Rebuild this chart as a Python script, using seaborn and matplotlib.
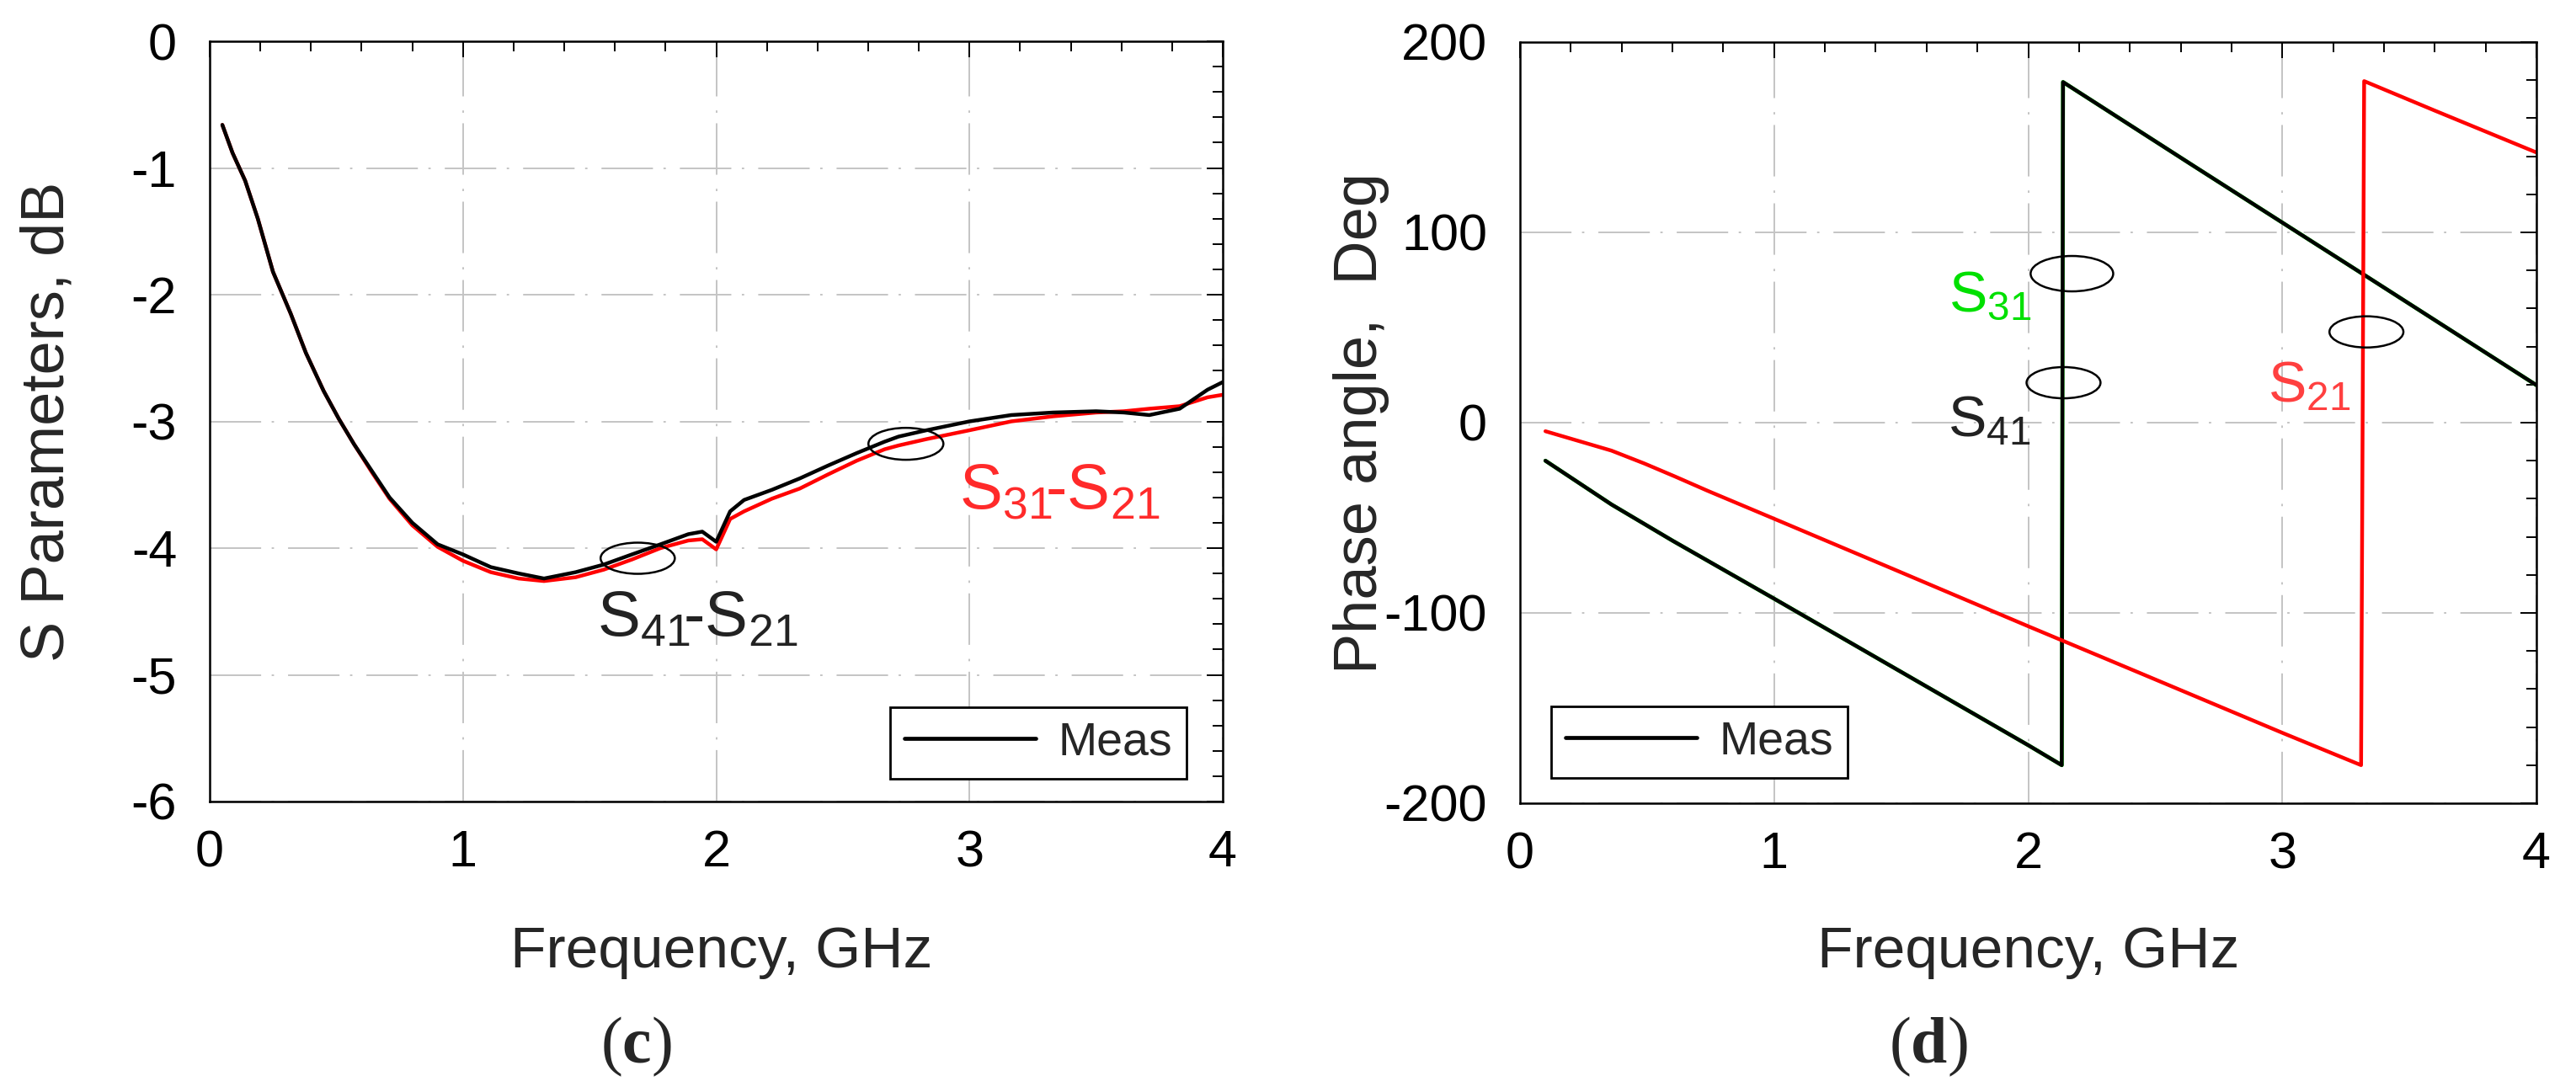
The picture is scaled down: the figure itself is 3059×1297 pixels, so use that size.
import matplotlib
matplotlib.use("Agg")
import matplotlib.pyplot as plt
from matplotlib.lines import Line2D
from matplotlib.patches import Ellipse
from matplotlib.ticker import MultipleLocator
import seaborn as sns

# ---- (c) magnitude of the coupling, dB ----
freq_mag = [0.05, 0.09, 0.14, 0.19, 0.25, 0.32, 0.38, 0.45, 0.51, 0.57, 0.64, 0.71,
            0.80, 0.90, 1.00, 1.11, 1.22, 1.32, 1.445, 1.556, 1.667, 1.78, 1.89, 1.945,
            2.00, 2.055, 2.11, 2.22, 2.33, 2.44, 2.555, 2.665, 2.72, 2.83, 3.00, 3.165,
            3.33, 3.50, 3.61, 3.71, 3.83, 3.94, 4.00]
s41_s21_db = [-0.66, -0.88, -1.10, -1.40, -1.82, -2.15, -2.46, -2.76, -2.98, -3.18, -3.39, -3.60,
              -3.80, -3.97, -4.05, -4.15, -4.20, -4.24, -4.19, -4.13, -4.05, -3.97, -3.89, -3.87,
              -3.95, -3.71, -3.62, -3.54, -3.45, -3.35, -3.25, -3.16, -3.12, -3.07, -3.00, -2.95,
              -2.93, -2.92, -2.93, -2.95, -2.90, -2.75, -2.69]
s31_s21_db = [-0.66, -0.88, -1.10, -1.40, -1.82, -2.15, -2.46, -2.76, -2.98, -3.18, -3.40, -3.61,
              -3.82, -3.99, -4.10, -4.19, -4.24, -4.26, -4.23, -4.17, -4.09, -4.00, -3.94, -3.93,
              -4.01, -3.77, -3.71, -3.61, -3.53, -3.42, -3.31, -3.22, -3.19, -3.14, -3.07, -3.00,
              -2.96, -2.93, -2.92, -2.90, -2.88, -2.81, -2.79]

# ---- (d) phase angle, deg ----
freq_s21 = [0.10, 0.23, 0.36, 0.49, 0.61, 0.74, 0.87, 1.00, 1.47, 2.00, 2.44, 3.00,
            3.310, 3.322, 3.60, 4.00]
phase_s21 = [-4.5, -9.6, -14.7, -21.5, -28.3, -35.9, -43.2, -50.5, -77.0, -107.0, -131.6, -163.0,
             -180.0, 179.5, 164.0, 142.0]
freq_s41 = [0.10, 0.36, 0.60, 1.00, 1.50, 2.00, 2.132, 2.137, 2.65, 3.33, 4.00]
phase_s41 = [-20.0, -43.0, -62.0, -92.5, -131.0, -169.5, -180.0, 179.0, 135.0, 77.0, 19.7]
phase_s31 = phase_s41  # S31 lies under S41

# annotation ellipses: centre x, centre y, width, height (data units)
mag_ellipses = [(1.69, -4.08, 0.293, 0.246), (2.749, -3.177, 0.296, 0.252)]
phase_ellipses = [(2.172, 78.3, 0.325, 18.6), (2.139, 21.0, 0.291, 16.4), (3.331, 47.7, 0.291, 16.4)]

sns.set_theme(style="white")
plt.rcParams["font.family"] = ["Liberation Sans", "DejaVu Sans"]
plt.rcParams["axes.unicode_minus"] = False
plt.rcParams["lines.scale_dashes"] = False
plt.rcParams["mathtext.fontset"] = "custom"
plt.rcParams["mathtext.rm"] = "Liberation Sans"
plt.rcParams["mathtext.it"] = "Liberation Sans:italic"
plt.rcParams["mathtext.bf"] = "Liberation Serif:bold"

W, H = 3059, 1297
fig = plt.figure(figsize=(W / 100, H / 100), dpi=100)
ax1 = fig.add_axes([249 / W, 1 - 952 / H, 1203 / W, 903 / H])
ax2 = fig.add_axes([1805 / W, 1 - 954 / H, 1207 / W, 904 / H])

grid_style = (0, (44, 9, 2, 12))


def style_axes(ax, ymajor, yminor):
    ax.set_xlim(0, 4)
    ax.xaxis.set_major_locator(MultipleLocator(1))
    ax.xaxis.set_minor_locator(MultipleLocator(0.2))
    ax.yaxis.set_major_locator(MultipleLocator(ymajor))
    ax.yaxis.set_minor_locator(MultipleLocator(yminor))
    ax.tick_params(which="both", direction="in", top=True, right=True, colors="black",
                   width=1.4, labelsize=44)
    ax.tick_params(which="major", length=14)
    ax.tick_params(which="minor", length=8.5)
    ax.tick_params(axis="x", which="major", pad=24)
    ax.tick_params(axis="y", which="major", pad=28)
    ax.grid(True, which="major", color="#c4c4c4", lw=1.4, linestyle=grid_style)
    for sp in ax.spines.values():
        sp.set_color("black")
        sp.set_linewidth(1.8)
    ax.set_facecolor("white")


# ---------- (c) ----------
sns.lineplot(x=freq_mag, y=s31_s21_db, ax=ax1, color="#ff0000", lw=3.2,
             estimator=None, sort=False)
sns.lineplot(x=freq_mag, y=s41_s21_db, ax=ax1, color="black", lw=3.2,
             estimator=None, sort=False)
ax1.set_ylim(-6, 0)
style_axes(ax1, 1, 0.2)
for cx, cy, w, h in mag_ellipses:
    ax1.add_patch(Ellipse((cx, cy), w, h, fill=False, ec="black", lw=1.8, zorder=5))
ax1.text(1.53, -4.69, r"$\mathrm{S_{41}}\!$-$\mathrm{S_{21}}$", color="#222222",
         fontsize=55, ha="left", va="baseline")
ax1.text(2.96, -3.69, r"$\mathrm{S_{31}}\!$-$\mathrm{S_{21}}$", color="#ff2a2a",
         fontsize=55, ha="left", va="baseline")
ax1.set_xlabel("Frequency, GHz", fontsize=50, va="center")
ax1.set_ylabel("S Parameters, dB", fontsize=52, va="center")
ax1.xaxis.set_label_coords(0.505, -0.198)
ax1.yaxis.set_label_coords(-0.160, 0.5)

meas = [Line2D([], [], color="black", lw=3.4)]
leg_kw = dict(fontsize=40, frameon=True, fancybox=False, framealpha=1, edgecolor="black",
              borderpad=0.3, handlelength=2.8, handletextpad=0.48, borderaxespad=0,
              loc="lower left")
leg1 = ax1.legend(meas, ["Meas"], bbox_to_anchor=(0.672, 0.030), **leg_kw)
leg1.get_frame().set_linewidth(2.0)

# ---------- (d) ----------
sns.lineplot(x=freq_s41, y=phase_s31, ax=ax2, color="#00e000", lw=3.4,
             estimator=None, sort=False)
sns.lineplot(x=freq_s41, y=phase_s41, ax=ax2, color="black", lw=3.2,
             estimator=None, sort=False)
sns.lineplot(x=freq_s21, y=phase_s21, ax=ax2, color="#ff0000", lw=3.2,
             estimator=None, sort=False)
ax2.set_ylim(-200, 200)
style_axes(ax2, 100, 20)
for cx, cy, w, h in phase_ellipses:
    ax2.add_patch(Ellipse((cx, cy), w, h, fill=False, ec="black", lw=1.8, zorder=5))
ax2.text(1.686, 58.5, r"$\mathrm{S_{31}}$", color="#00e000", fontsize=49,
         ha="left", va="baseline")
ax2.text(1.682, -7.0, r"$\mathrm{S_{41}}$", color="#222222", fontsize=49,
         ha="left", va="baseline")
ax2.text(2.944, 11.1, r"$\mathrm{S_{21}}$", color="#ff4040", fontsize=49,
         ha="left", va="baseline")
ax2.set_xlabel("Frequency, GHz", fontsize=50, va="center")
ax2.set_ylabel("Phase angle,  Deg", fontsize=52, va="center")
ax2.xaxis.set_label_coords(0.5, -0.196)
ax2.yaxis.set_label_coords(-0.156, 0.5)
leg2 = ax2.legend(meas, ["Meas"], bbox_to_anchor=(0.031, 0.033), **leg_kw)
leg2.get_frame().set_linewidth(2.0)

# panel letters
fig.text(755 / W, 1 - 1243 / H, r"($\mathbf{c}$)", fontsize=56, ha="center", va="center",
         family="Liberation Serif")
fig.text(2290 / W, 1 - 1243 / H, r"($\mathbf{d}$)", fontsize=56, ha="center", va="center",
         family="Liberation Serif")

fig.savefig("out.png", dpi=100, facecolor="white")
